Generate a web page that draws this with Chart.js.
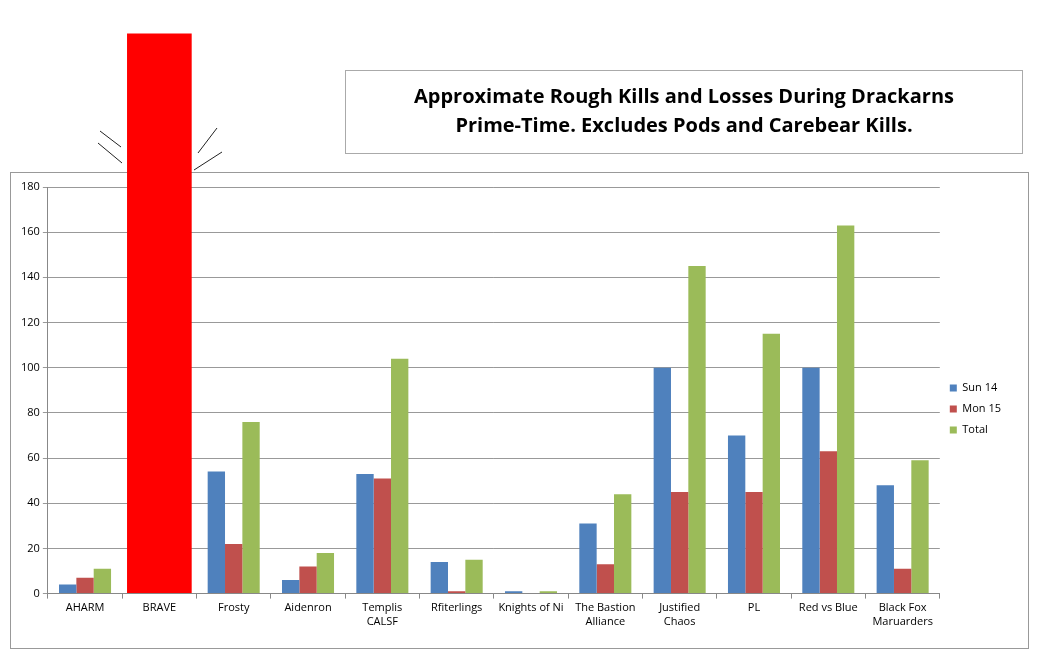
<!DOCTYPE html>
<html>
<head>
<meta charset="utf-8">
<script src="https://cdn.jsdelivr.net/npm/chart.js@4.4.1/dist/chart.umd.min.js"></script>
<style>
  body { margin: 0; background: #fff; }
  #wrap { position: relative; width: 1046px; height: 662px; }
  #title {
    position: absolute; left: 345px; top: 70px; width: 678px; height: 84px;
    border: 1px solid #aaa; box-sizing: border-box;
    font-family: "Open Sans", Calibri, sans-serif; font-weight: bold; font-size: 20px;
    text-align: center; line-height: 29px; padding-top: 10px; color: #000;
  }
  canvas { position: absolute; left: 0; top: 0; }
</style>
</head>
<body>
<div id="wrap">
  <canvas id="chart" width="1046" height="662"></canvas>
  <div id="title">Approximate Rough Kills and Losses During Drackarns<br>Prime-Time. Excludes Pods and Carebear Kills.</div>
</div>
<script>
// Datos
const categories = ["AHARM", "BRAVE", "Frosty", "Aidenron", ["Templis", "CALSF"], "Rfiterlings",
  "Knights of Ni", ["The Bastion", "Alliance"], ["Justified", "Chaos"], "PL", "Red vs Blue", ["Black Fox", "Maruarders"]];
const sun14 = [4, null, 54, 6, 53, 14, 1, 31, 100, 70, 100, 48];
const mon15 = [7, null, 22, 12, 51, 1, 0, 13, 45, 45, 63, 11];
const total = [11, null, 76, 18, 104, 15, 1, 44, 145, 115, 163, 59];
const brave = [null, 248, null, null, null, null, null, null, null, null, null, null];

// Borde del gráfico y las rayitas alrededor de BRAVE
const decor = {
  id: "decor",
  beforeDraw(chart) {
    const c = chart.ctx;
    c.save();
    c.strokeStyle = "#999";
    c.lineWidth = 1;
    c.strokeRect(10.5, 172.5, 1018, 476);
    c.restore();
  },
  afterDraw(chart) {
    const c = chart.ctx;
    c.save();
    c.strokeStyle = "#222";
    c.lineWidth = 1;
    [[98, 143, 122, 163], [100, 131, 121, 147], [198, 153, 217, 128], [194, 170, 222, 152]].forEach(l => {
      c.beginPath(); c.moveTo(l[0], l[1]); c.lineTo(l[2], l[3]); c.stroke();
    });
    c.restore();
  }
};

const font = { family: "'Open Sans', Calibri, sans-serif", size: 11 };

new Chart(document.getElementById("chart").getContext("2d"), {
  type: "bar",
  data: {
    labels: categories,
    datasets: [
      { label: "Sun 14", data: sun14, backgroundColor: "#4F81BD" },
      { label: "Mon 15", data: mon15, backgroundColor: "#C0504D" },
      { label: "Total", data: total, backgroundColor: "#9BBB59" },
      { label: "BRAVE", data: brave, backgroundColor: "#FF0000", grouped: false,
        categoryPercentage: 0.87, barPercentage: 1, clip: false }
    ]
  },
  options: {
    responsive: false,
    animation: false,
    categoryPercentage: 0.7,
    barPercentage: 1,
    layout: { padding: { top: 187, left: 18, right: 35, bottom: 31 } },
    plugins: {
      legend: {
        position: "right",
        labels: { boxWidth: 7, boxHeight: 7, font: font, color: "#000",
          filter: item => item.text !== "BRAVE" }
      },
      tooltip: { enabled: false }
    },
    scales: {
      x: {
        grid: { drawOnChartArea: false, offset: true, tickLength: 5, color: "#888" },
        border: { color: "#888" },
        ticks: { font: font, color: "#000", maxRotation: 0, autoSkip: false }
      },
      y: {
        min: 0, max: 180,
        ticks: { stepSize: 20, font: font, color: "#000" },
        grid: { color: "#999", tickLength: 5 },
        border: { color: "#888" }
      }
    }
  },
  plugins: [decor]
});
</script>
</body>
</html>
